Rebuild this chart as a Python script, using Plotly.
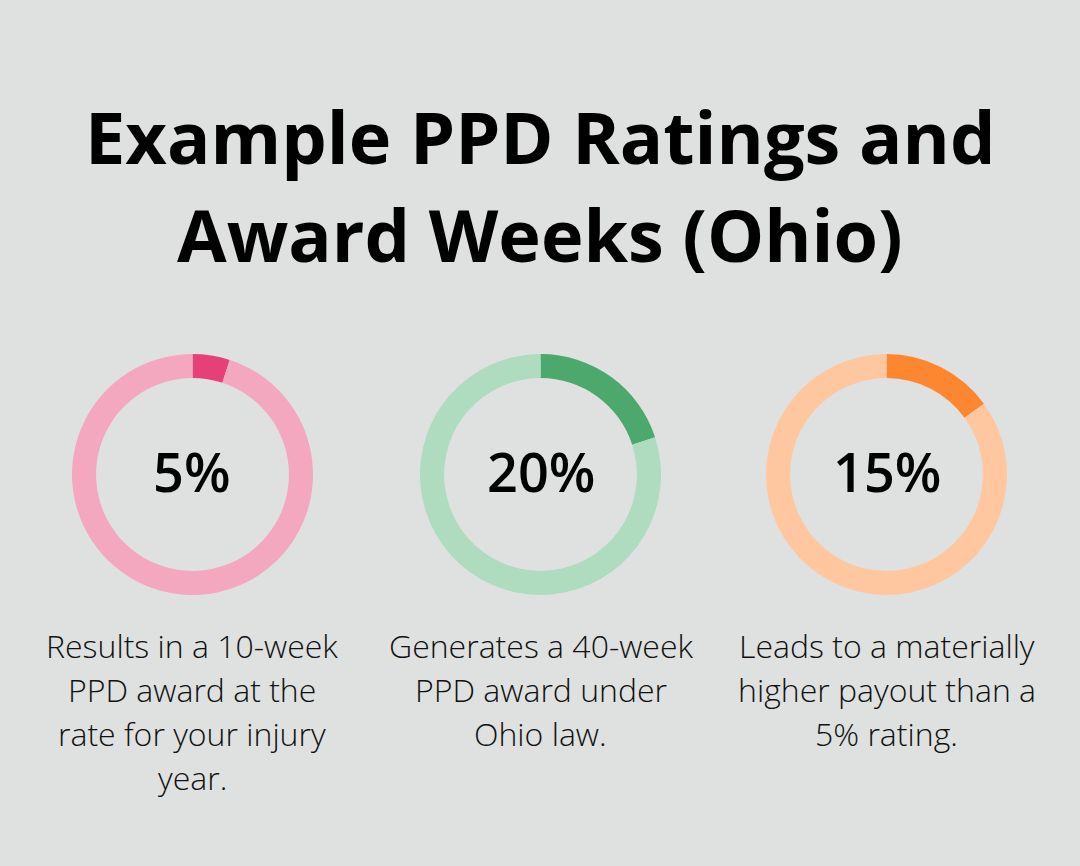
import plotly.graph_objects as go

W, H = 1080, 866

title_lines = ["Example PPD Ratings and", "Award Weeks (Ohio)"]
ratings = [5, 20, 15]
remainder = [95, 80, 85]
labels = ["5%", "20%", "15%"]
strong_colors = ["#E54178", "#4CA86C", "#FD8731"]
light_colors = ["#F3A8C0", "#AFDBBE", "#FEC7A0"]
captions = [
    ["Results in a 10-week", "PPD award at the", "rate for your injury", "year."],
    ["Generates a 40-week", "PPD award under", "Ohio law."],
    ["Leads to a materially", "higher payout than a", "5% rating."],
]

centers_x = [192.5, 540.5, 886.5]
center_y = 474.5
radius = 120.5

fig = go.Figure()

for i in range(3):
    cx = centers_x[i]
    # domaine en fraction de la figure
    fig.add_trace(go.Pie(
        values=[ratings[i], remainder[i]],
        hole=0.8,
        sort=False,
        direction="clockwise",
        rotation=0,
        marker=dict(colors=[strong_colors[i], light_colors[i]], line=dict(width=0)),
        textinfo="none",
        hoverinfo="skip",
        showlegend=False,
        domain=dict(x=[(cx - radius) / W, (cx + radius) / W],
                    y=[1 - (center_y + radius) / H, 1 - (center_y - radius) / H]),
    ))
    fig.add_annotation(x=cx / W, y=1 - (center_y - 4) / H, xref="paper", yref="paper",
                       text=labels[i], showarrow=False, xanchor="center", yanchor="middle",
                       font=dict(family="Open Sans", size=54, weight=600, color="#000000"))
    for j, line in enumerate(captions[i]):
        fig.add_annotation(x=cx / W, y=1 - (645 + j * 44) / H, xref="paper", yref="paper",
                           text=line, showarrow=False, xanchor="center", yanchor="middle",
                           font=dict(family="Open Sans", size=32, weight=300, color="#111111"))

for j, line in enumerate(title_lines):
    fig.add_annotation(x=540 / W, y=1 - (136 + j * 98) / H, xref="paper", yref="paper",
                       text=line, showarrow=False, xanchor="center", yanchor="middle",
                       font=dict(family="Open Sans", size=72, weight=700, color="#000000"))

fig.update_layout(width=W, height=H, margin=dict(l=0, r=0, t=0, b=0),
                  paper_bgcolor="#DFE1E0", plot_bgcolor="#DFE1E0")

fig.write_html("out.html", config=dict(displayModeBar=False),
               post_script="document.body.style.margin='0';document.body.style.overflow='hidden';")
